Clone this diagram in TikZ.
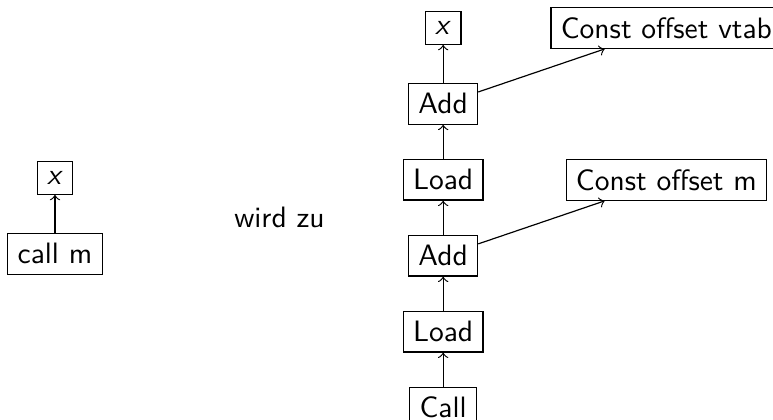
\documentclass[tikz,border=0pt]{standalone}
\usepackage{tikz}
\usetikzlibrary{positioning}
\renewcommand{\familydefault}{\sfdefault}

\begin{document}
\begin{tikzpicture}[node distance=0.905cm, on grid, box/.style={draw}]
    \useasboundingbox (0,0) rectangle (9.21,-5.0);
    % links: einfacher Aufruf
    \node[box] (lx) at (0.655,-2.12) {\textit{x}};
    \node[box,below=of lx] (lc) {call m};
    \node (wz) at (3.33,-2.585) {wird zu};
    % rechts: Kette von Call bis x
    \node[box] (rx) at (5.28,-0.333) {\textit{x}};
    \node[box,below=of rx] (a1) {Add};
    \node[box,below=of a1] (l1) {Load};
    \node[box,below=of l1] (a2) {Add};
    \node[box,below=of a2] (l2) {Load};
    \node[box,below=of l2] (cl) {Call};
    % Konstanten
    \node[box,right=2.66cm of rx] (cv) {Const offset vtab};
    \node[box,right=2.66cm of l1] (cm) {Const offset m};
    % Pfeile
    \draw[->] (lc) -- (lx);
    \foreach \x/\y in {cl/l2,l2/a2,a2/l1,l1/a1,a1/rx} {\draw[->] (\x) -- (\y);}
    \draw[->] (a1) -- (cv);
    \draw[->] (a2) -- (cm);
\end{tikzpicture}
\end{document}
